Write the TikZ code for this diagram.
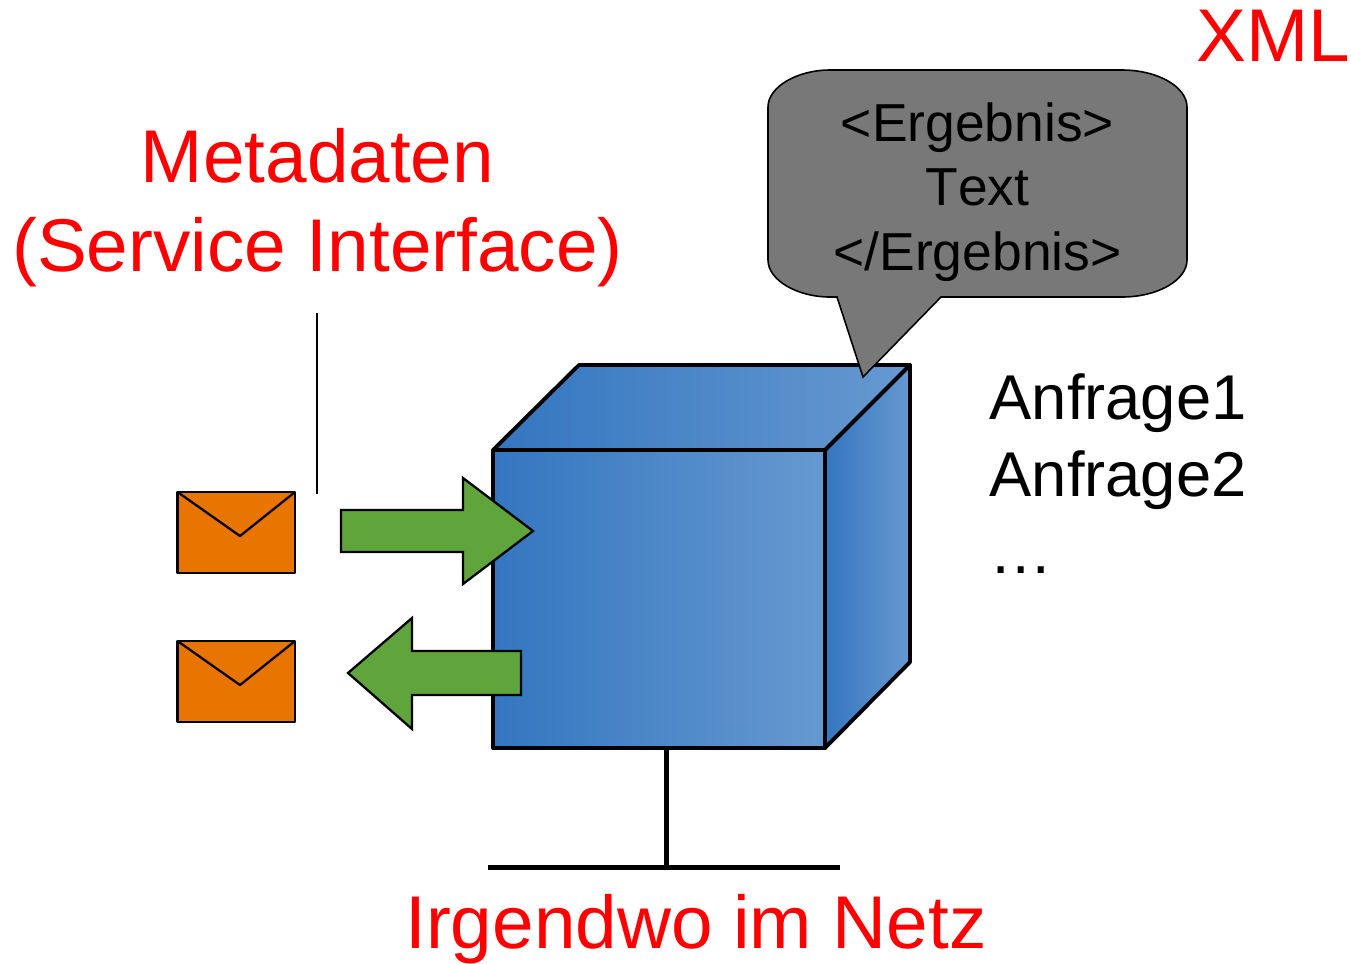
\documentclass[tikz,border=0pt]{standalone}
\usepackage{fontspec}
\setmainfont[Kerning=Off]{Liberation Sans}
\definecolor{boxblue}{HTML}{3476C0}
\definecolor{boxlight}{HTML}{6699D0}
\definecolor{mailorange}{HTML}{E87500}
\definecolor{arrowgreen}{HTML}{5FA53C}
\definecolor{bubblegray}{HTML}{787878}
\tikzset{
  bigred/.style={text=red, inner sep=0pt, align=center, font=\fontsize{21.25}{25.3}\selectfont},
  cubeface/.style={draw=black, line width=1.1pt, line join=round, left color=boxblue, right color=boxlight},
  mail/.style={draw=black, line width=0.65pt, fill=mailorange, line join=round},
  flow/.style={draw=black, line width=0.65pt, fill=arrowgreen, line join=miter}
}

\begin{document}
\begin{tikzpicture}[x=0.01cm, y=-0.01cm]
\useasboundingbox (0,0) rectangle (1351,963);

% Service box
\draw[cubeface] (493,450) -- (579,365) -- (910,365) -- (825,450) -- cycle;
\draw[cubeface] (825,450) -- (910,365) -- (910,662) -- (825,748) -- cycle;
\draw[cubeface] (493,450) rectangle (825,748);

% Stand
\coordinate (standtop) at (666.5,748);
\coordinate (standfoot) at (666.5,867.5);
\coordinate (baseleft) at (488,867.5);
\coordinate (baseright) at (840,867.5);
\draw[line width=1.5pt] (standtop) -- (standfoot);
\draw[line width=1.5pt] (baseleft) -- (baseright);

% Messages
\foreach \ytop/\ytip/\ybot in {492/536/573, 641/685/722} {
  \draw[mail] (177.5,\ytop) rectangle (295,\ybot);
  \draw[mail, fill=none] (177.5,\ytop) -- (240,\ytip) -- (295,\ytop);
}

% Request and response
\draw[flow] (341,510) -- (463,510) -- (463,478) -- (533,531) -- (463,584) -- (463,552) -- (341,552) -- cycle;
\draw[flow] (348,673) -- (412,618) -- (412,651) -- (521,651) -- (521,695) -- (412,695) -- (412,729) -- cycle;

% Speech bubble
\draw[fill=bubblegray, line width=0.45pt, line join=miter] (830,70) -- (1122,70)
  .. controls (1158,70) and (1187,87) .. (1187,107) -- (1187,260)
  .. controls (1187,280) and (1158,297) .. (1122,297) -- (941,297) -- (863,377) -- (837,297) -- (830,297)
  .. controls (797,297) and (768,280) .. (768,260) -- (768,107)
  .. controls (768,87) and (797,70) .. (830,70) -- cycle;
\node[inner sep=0pt, align=center, font=\fontsize{15.2}{18.35}\selectfont] (result) at (977.5,192) {<Ergebnis>\\Text\\</Ergebnis>};

% Labels
\node[bigred] (metadata) at (317.5,208) {Metadaten\\(Service Interface)};
\node[bigred] (xml) at (1273,36) {XML};
\node[bigred] (where) at (696,929) {Irgendwo im Netz};
\node[inner sep=0pt, align=left, anchor=west, font=\fontsize{18}{21.9}\selectfont] (requests) at (989,474) {Anfrage1\\Anfrage2\\…};

\coordinate (leadertop) at (317,313);
\coordinate (leaderbot) at (317,494);
\draw[line width=0.5pt] (leadertop) -- (leaderbot);
\end{tikzpicture}
\end{document}
